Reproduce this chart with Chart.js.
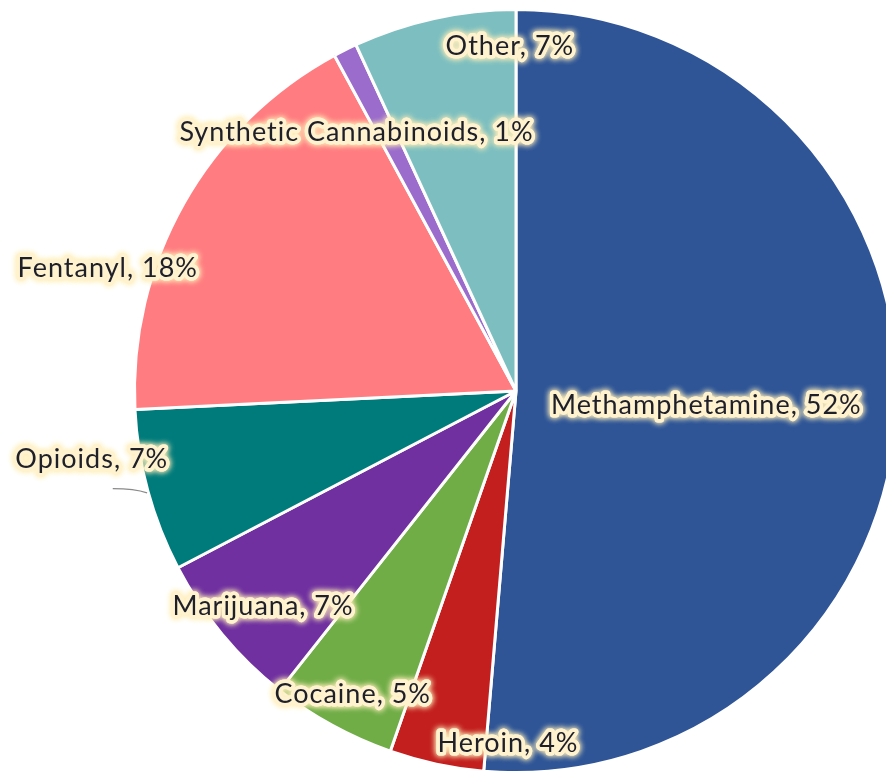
<!DOCTYPE html>
<html>
<head>
<meta charset="utf-8">
<script src="https://cdn.jsdelivr.net/npm/chart.js@4.4.1/dist/chart.umd.min.js"></script>
<style>
  html, body { margin: 0; padding: 0; background: #fff; overflow: hidden; }
  #wrap { position: absolute; left: 0; top: 0; width: 1032px; height: 782px; }
</style>
</head>
<body>
<div id="wrap"><canvas id="drugChart"></canvas></div>
<script>
// Drug categories, clockwise from 12 o'clock
const drugs = ['Methamphetamine', 'Heroin', 'Cocaine', 'Marijuana', 'Opioids', 'Fentanyl', 'Synthetic Cannabinoids', 'Other'];
const shares = [51.4, 4.0, 5.3, 6.7, 6.9, 17.9, 1.0, 6.9];
const shareLabels = ['52%', '4%', '5%', '7%', '7%', '18%', '1%', '7%'];
const sliceColors = ['#2f5597', '#c41f1f', '#70ad47', '#7030a0', '#007b7b', '#ff7c80', '#9b6ccb', '#7dbfc0'];

// label anchor, as fraction of radius from pie centre
const labelAnchors = [
    [0.499, 0.037], [-0.021, 0.924], [-0.428, 0.794], [-0.663, 0.564],
    [-1.112, 0.180], [-1.070, -0.321], [-0.418, -0.679], [-0.016, -0.903]
];

const glowLabels = {
    id: 'glowLabels',
    afterDatasetsDraw(chart) {
        const ctx = chart.ctx;
        const arcs = chart.getDatasetMeta(0).data;
        const cx = arcs[0].x, cy = arcs[0].y, r = arcs[0].outerRadius;
        ctx.save();
        // leader line for Opioids
        ctx.strokeStyle = '#8a8a8a';
        ctx.lineWidth = 1.2;
        ctx.beginPath();
        ctx.moveTo(cx - 1.057 * r, cy + 0.256 * r);
        ctx.quadraticCurveTo(cx - 1.0 * r, cy + 0.256 * r, cx - 0.967 * r, cy + 0.267 * r);
        ctx.stroke();

        ctx.font = '27px Lato, "Open Sans", sans-serif';
        ctx.letterSpacing = '1px';
        ctx.textAlign = 'center';
        ctx.textBaseline = 'middle';
        ctx.lineJoin = 'round';
        drugs.forEach((name, i) => {
            const text = name + ', ' + shareLabels[i];
            const x = cx + labelAnchors[i][0] * r;
            const y = cy + labelAnchors[i][1] * r;
            ctx.shadowColor = '#ffeebb';
            ctx.shadowBlur = 6;
            ctx.strokeStyle = '#fff3cf';
            ctx.lineWidth = 7;
            ctx.strokeText(text, x, y);
            ctx.strokeText(text, x, y);
            ctx.shadowBlur = 0;
            ctx.fillStyle = '#1f1f2a';
            ctx.fillText(text, x, y);
        });
        ctx.restore();
    }
};

new Chart(document.getElementById('drugChart').getContext('2d'), {
    type: 'pie',
    data: {
        labels: drugs,
        datasets: [{
            data: shares,
            backgroundColor: sliceColors,
            borderColor: '#ffffff',
            borderWidth: 3
        }]
    },
    options: {
        responsive: true,
        maintainAspectRatio: false,
        animation: false,
        layout: { padding: 8 },
        plugins: {
            legend: { display: false },
            tooltip: { enabled: false }
        }
    },
    plugins: [glowLabels]
});
</script>
</body>
</html>
